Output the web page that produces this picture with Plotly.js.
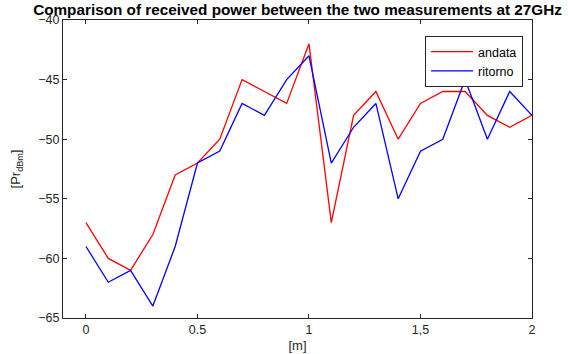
<!DOCTYPE html>
<html><head><meta charset="utf-8">
<script src="https://cdn.plot.ly/plotly-3.0.1.min.js"></script>
<style>body{margin:0;background:#fff}#c{width:572px;height:354px}</style>
</head><body><div id="c"></div>
<script>
const distance = [0,0.1,0.2,0.3,0.4,0.5,0.6,0.7,0.8,0.9,1.0,1.1,1.2,1.3,1.4,1.5,1.6,1.7,1.8,1.9,2.0];
const andata  = [-57,-60,-61,-58,-53,-52,-50,-45,-46,-47,-42,-57,-48,-46,-50,-47,-46,-46,-48,-49,-48];
const ritorno = [-59,-62,-61,-64,-59,-52,-51,-47,-48,-45,-43,-52,-49,-47,-55,-51,-50,-45,-50,-46,-48];
const xTickVals = [0,0.5,1,1.5,2];
const xTickText = ["0","0.5","1","1,5","2"];
const yTickVals = [-65,-60,-55,-50,-45,-40];

const fontFam = "Liberation Sans, Arial, sans-serif";
const traces = [
  {x: distance, y: andata, name: "andata", mode: "lines", line: {color: "#ff0000", width: 1.3}},
  {x: distance, y: ritorno, name: "ritorno", mode: "lines", line: {color: "#0000ff", width: 1.3}}
];
const axisCommon = {
  showgrid: false, zeroline: false, showline: true, linecolor: "#262626", linewidth: 1,
  mirror: "ticks", ticks: "inside", ticklen: 4, tickcolor: "#262626",
  tickfont: {family: fontFam, size: 12.5, color: "#262626"}
};
const layout = {
  width: 572, height: 354,
  margin: {l: 63, r: 40, t: 20, b: 36},
  paper_bgcolor: "#fff", plot_bgcolor: "#fff",
  title: {text: "<b>Comparison of received power between the two measurements at 27GHz</b>",
    font: {family: fontFam, size: 15.3, color: "#000"},
    xref: "paper", x: 0.5, xanchor: "center", yref: "container", y: 1 - 10/354, yanchor: "middle"},
  xaxis: Object.assign({}, axisCommon, {range: [-0.103, 2], tickvals: xTickVals, ticktext: xTickText,
    title: {text: "[m]", font: {family: fontFam, size: 13, color: "#262626"}, standoff: 4}}),
  yaxis: Object.assign({}, axisCommon, {range: [-65, -40], tickvals: yTickVals,
    title: {text: "[Pr<sub>dBm</sub>]", font: {family: fontFam, size: 13, color: "#262626"}, standoff: 14}}),
  showlegend: true,
  legend: {x: 0.981, xanchor: "right", y: 0.946, yanchor: "top", bgcolor: "#fff",
    bordercolor: "#262626", borderwidth: 1, font: {family: fontFam, size: 12.5, color: "#000"},
    itemwidth: 42, tracegroupgap: 0}
};
Plotly.newPlot("c", traces, layout, {displayModeBar: false, staticPlot: true});
</script></body></html>
